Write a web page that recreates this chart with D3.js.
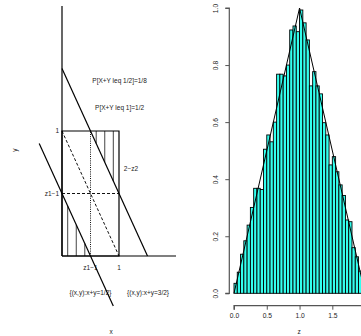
<!DOCTYPE html>
<html>
<head>
<meta charset="utf-8">
<script src="https://cdn.jsdelivr.net/npm/d3@7"></script>
<style>
  html, body { margin: 0; padding: 0; background: #fff; }
  svg { display: block; }
  text { font-family: 'Liberation Sans', Arial, sans-serif; fill: #222; }
</style>
</head>
<body>
<div id="chart"></div>
<script>
// left panel: geometry of {x+y <= z} in the unit square
const squareCorners = [[0, 0], [1, 0], [1, 1], [0, 1], [0, 0]];
const axisLines = [[[0, 0], [0, 2]], [[0, 0], [2, 0]]];
const solidLines = [[[0, 1.5], [1.5, 0]], [[-0.4, 0.9], [0.9, -0.4]]];
const dashedLines = [[[0, 1], [1, 0]], [[0, 0.5], [1, 0.5]]];
const dottedLines = [[[0.5, 0], [0.5, 1]]];
const hatchLow = [0.1, 0.25, 0.4];   // from y=0 up to x+y=1/2
const hatchHigh = [0.6, 0.75, 0.9];  // from y=1 down to x+y=3/2

// right panel: histogram of z = x + y, density scale
const binWidth = 0.05;
const density = [
  0.035, 0.074, 0.137, 0.184, 0.239, 0.301, 0.368, 0.368, 0.364, 0.505,
  0.555, 0.531, 0.600, 0.768, 0.768, 0.762, 0.800, 0.923, 0.937, 0.917,
  0.993, 0.948, 0.888, 0.727, 0.777, 0.727, 0.699, 0.598, 0.555, 0.450,
  0.479, 0.426, 0.380, 0.343, 0.257, 0.251, 0.160, 0.128, 0.078, 0.035
];
const triangle = [[0, 0], [1, 1], [2, 0]];
const yTicks = [0, 0.2, 0.4, 0.6, 0.8, 1.0];
const zTicks = [0, 0.5, 1.0, 1.5];

const W = 361, H = 336;
const svg = d3.select('#chart').append('svg')
  .attr('width', W).attr('height', H)
  .attr('viewBox', `0 0 ${W} ${H}`);

// ---------- left panel ----------
const lx = d3.scaleLinear().domain([0, 1]).range([62, 119]);
const ly = d3.scaleLinear().domain([0, 1]).range([256, 131]);
const line = d3.line().x(d => lx(d[0])).y(d => ly(d[1]));
const left = svg.append('g');

// annotation text first, lines drawn on top (as in the original)
const labels = [
  { t: 'P[X+Y leq 1/2]=1/8', x: 1.01, y: 1.40, a: 'middle' },
  { t: 'P[X+Y leq 1]=1/2', x: 1.01, y: 1.19, a: 'middle' },
  { t: '2\u2212z2', x: 1.21, y: 0.695, a: 'middle' },
  { t: '{(x,y):x+y=1/2}', x: 0.5, y: -0.29, a: 'middle' },
  { t: '{(x,y):x+y=3/2}', x: 1.51, y: -0.29, a: 'middle' },
  { t: 'z1\u22121', x: 0.5, y: -0.095, a: 'middle' },
  { t: '1', x: 1, y: -0.095, a: 'middle' }
];
left.selectAll('text.ann').data(labels).enter().append('text')
  .attr('class', 'ann')
  .attr('x', d => lx(d.x)).attr('y', d => ly(d.y))
  .attr('dy', '0.35em')
  .attr('text-anchor', d => d.a)
  .attr('font-size', 6.5)
  .text(d => d.t);

left.append('text').attr('x', lx(0) - 3).attr('y', ly(1)).attr('dy', '0.35em')
  .attr('text-anchor', 'end').attr('font-size', 6.5).text('1');
left.append('text').attr('x', lx(0) - 3).attr('y', ly(0.5)).attr('dy', '0.35em')
  .attr('text-anchor', 'end').attr('font-size', 6.5).text('z1\u22121');

left.append('text').attr('x', 111).attr('y', 332).attr('dy', '0.35em')
  .attr('text-anchor', 'middle').attr('font-size', 6.5).text('x');
left.append('text').attr('transform', 'translate(15,150) rotate(-90)')
  .attr('dy', '0.35em').attr('text-anchor', 'middle').attr('font-size', 6.5).text('y');

left.selectAll('line.hatchLow').data(hatchLow).enter().append('line')
  .attr('x1', d => lx(d)).attr('x2', d => lx(d))
  .attr('y1', ly(0)).attr('y2', d => ly(0.5 - d))
  .attr('stroke', '#444').attr('stroke-width', 1);
left.selectAll('line.hatchHigh').data(hatchHigh).enter().append('line')
  .attr('x1', d => lx(d)).attr('x2', d => lx(d))
  .attr('y1', ly(1)).attr('y2', d => ly(1.5 - d))
  .attr('stroke', '#444').attr('stroke-width', 1);

left.selectAll('path.dash').data(dashedLines).enter().append('path')
  .attr('d', line).attr('fill', 'none')
  .attr('stroke', '#111').attr('stroke-width', 1).attr('stroke-dasharray', '3,2');
left.selectAll('path.dot').data(dottedLines).enter().append('path')
  .attr('d', line).attr('fill', 'none')
  .attr('stroke', '#111').attr('stroke-width', 1).attr('stroke-dasharray', '1,1.2');

left.append('path').attr('d', line(squareCorners)).attr('fill', 'none')
  .attr('stroke', '#000').attr('stroke-width', 1.2);
left.selectAll('path.solid').data(axisLines.concat(solidLines)).enter().append('path')
  .attr('d', line).attr('fill', 'none')
  .attr('stroke', '#000').attr('stroke-width', 1.2);

// ---------- right panel ----------
const zx = d3.scaleLinear().domain([0, 2]).range([234, 365.1]);
const dy = d3.scaleLinear().domain([0, 1]).range([293.3, 8]);
const right = svg.append('g');

right.selectAll('rect.bar').data(density).enter().append('rect')
  .attr('x', (d, i) => zx(i * binWidth))
  .attr('width', (d, i) => zx((i + 1) * binWidth) - zx(i * binWidth))
  .attr('y', d => dy(d))
  .attr('height', d => dy(0) - dy(d))
  .attr('fill', '#33ffee')
  .attr('stroke', '#000').attr('stroke-width', 0.9);

right.append('path')
  .attr('d', d3.line().x(d => zx(d[0])).y(d => dy(d[1]))(triangle))
  .attr('fill', 'none').attr('stroke', '#000').attr('stroke-width', 1);

const yAxis = d3.axisLeft(dy).tickValues(yTicks).tickFormat(d3.format('.1f'))
  .tickSize(4).tickPadding(4);
const gy = right.append('g').attr('transform', 'translate(229.3,0)').call(yAxis);
gy.select('.domain').attr('stroke', '#555').attr('stroke-width', 1.2).attr('d', `M-4,${dy(0)}H0V${dy(1)}H-4`);
gy.selectAll('.tick line').attr('stroke', '#555');
gy.selectAll('.tick text')
  .attr('font-size', 6.7).attr('font-family', "'Liberation Sans', Arial, sans-serif")
  .attr('fill', '#333')
  .attr('x', 0).attr('dy', 0)
  .attr('text-anchor', 'middle')
  .attr('transform', 'translate(-11.5,0) rotate(-90)');

const xAxis = d3.axisBottom(zx).tickValues(zTicks).tickFormat(d3.format('.1f'))
  .tickSize(4).tickPadding(4);
const gx = right.append('g').attr('transform', 'translate(0,305.7)').call(xAxis);
gx.select('.domain').attr('stroke', '#555').attr('stroke-width', 1.2).attr('d', `M${zx(0)},4V0H${zx(2)}V4`);
gx.selectAll('.tick line').attr('stroke', '#555');
gx.selectAll('.tick text')
  .attr('font-size', 6.7).attr('font-family', "'Liberation Sans', Arial, sans-serif")
  .attr('fill', '#333');

right.append('text').attr('x', 299).attr('y', 332).attr('dy', '0.35em')
  .attr('text-anchor', 'middle').attr('font-size', 6.5).text('z');
</script>
</body>
</html>
